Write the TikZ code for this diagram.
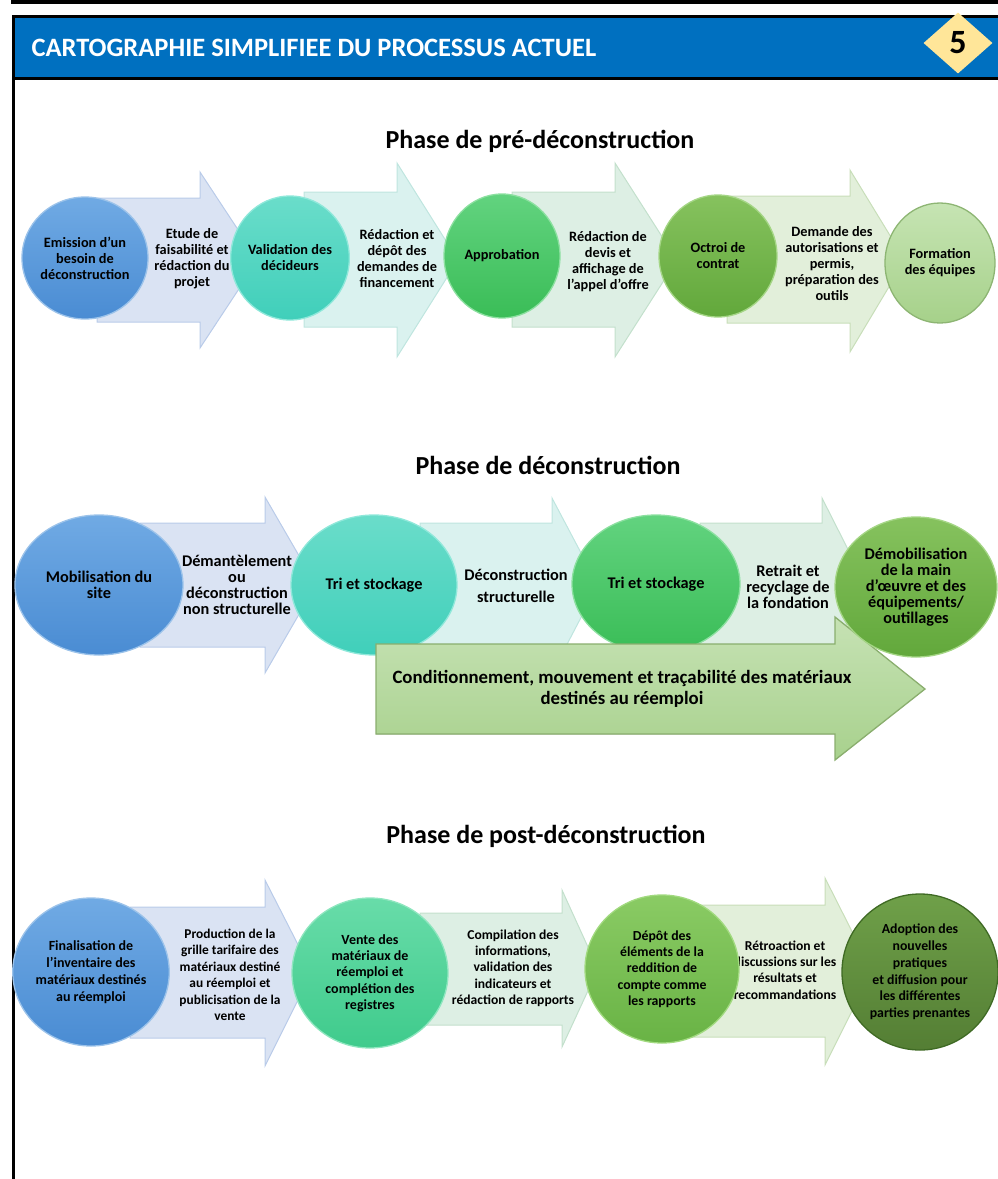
\documentclass[tikz,border=0pt]{standalone}
\usepackage{fontspec}
\setmainfont{Carlito}
\usetikzlibrary{shapes.geometric}
\definecolor{hdrblue}{HTML}{0070C0}
\definecolor{badge}{HTML}{FFE699}
% fleches
\definecolor{arrblue}{HTML}{DAE3F3}  \definecolor{arrblueline}{HTML}{B9CBE9}
\definecolor{arrteal}{HTML}{DAF2EF}  \definecolor{arrtealline}{HTML}{BFE5DF}
\definecolor{arrmint}{HTML}{DDEFE4}  \definecolor{arrmintline}{HTML}{C3E0CC}
\definecolor{arrlime}{HTML}{E2EFDA}  \definecolor{arrlimeline}{HTML}{C8DEB9}
\definecolor{bigtop}{HTML}{C6E2B4}   \definecolor{bigbot}{HTML}{A8D18D}
\definecolor{bigline}{HTML}{8AAE6E}
% cercles
\definecolor{blueT}{HTML}{70AAE4}   \definecolor{blueB}{HTML}{4A8CD3}   \definecolor{blueL}{HTML}{9CC3EA}
\definecolor{tealT}{HTML}{6ADDCA}   \definecolor{tealB}{HTML}{40CFBA}   \definecolor{tealL}{HTML}{8FE8DA}
\definecolor{greenT}{HTML}{62D37F}  \definecolor{greenB}{HTML}{3ABD57}  \definecolor{greenL}{HTML}{8CE0A0}
\definecolor{mintT}{HTML}{68DCA9}   \definecolor{mintB}{HTML}{3FCB8C}   \definecolor{mintL}{HTML}{8FE6BF}
\definecolor{oliveT}{HTML}{86C25E}  \definecolor{oliveB}{HTML}{62A83B}  \definecolor{oliveL}{HTML}{A5D686}
\definecolor{leafT}{HTML}{8ACB64}   \definecolor{leafB}{HTML}{69B345}   \definecolor{leafL}{HTML}{A2DA80}
\definecolor{paleT}{HTML}{C6E4B3}   \definecolor{paleB}{HTML}{A6D18A}   \definecolor{paleL}{HTML}{8DB573}
\definecolor{forestT}{HTML}{6FA049} \definecolor{forestB}{HTML}{547E34} \definecolor{forestL}{HTML}{3F6A24}
\begin{document}
\begin{tikzpicture}[x=1pt,y=-1pt,
    bubble/.style={ellipse, inner sep=0pt, align=center, line width=1.3pt,
        font=\bfseries\fontsize{14.3}{16}\selectfont},
    flowtext/.style={align=center, inner sep=0pt,
        font=\bfseries\fontsize{14.3}{16}\selectfont},
    bigtext/.style={bubble, font=\bfseries\fontsize{16.3}{16}\selectfont},
    midtext/.style={flowtext, font=\bfseries\fontsize{16.3}{16}\selectfont},
    posttext/.style={flowtext, font=\bfseries\fontsize{13.6}{16.3}\selectfont},
    phase/.style={font=\bfseries\fontsize{26}{30}\selectfont},
    arrowblue/.style={fill=arrblue, draw=arrblueline, line width=1pt},
    arrowteal/.style={fill=arrteal, draw=arrtealline, line width=1pt},
    arrowmint/.style={fill=arrmint, draw=arrmintline, line width=1pt},
    arrowlime/.style={fill=arrlime, draw=arrlimeline, line width=1pt},
    blueball/.style={top color=blueT, bottom color=blueB, draw=blueL},
    tealball/.style={top color=tealT, bottom color=tealB, draw=tealL},
    greenball/.style={top color=greenT, bottom color=greenB, draw=greenL},
    mintball/.style={top color=mintT, bottom color=mintB, draw=mintL},
    oliveball/.style={top color=oliveT, bottom color=oliveB, draw=oliveL},
    leafball/.style={top color=leafT, bottom color=leafB, draw=leafL},
    paleball/.style={top color=paleT, bottom color=paleB, draw=paleL},
    forestball/.style={top color=forestT, bottom color=forestB, draw=forestL}]
\useasboundingbox (0,0) rectangle (997,1179);

% cadre et en-tete
\draw[line width=4pt] (13,-5) -- (13,2) -- (1005,2);
\fill[hdrblue] (13,16) rectangle (1005,77);
\draw[line width=3pt] (13,1190) -- (13,16) -- (1005,16);
\draw[line width=3pt] (13,78) -- (1005,78);
\node[anchor=west, text=white, font=\bfseries\fontsize{26.5}{30}\selectfont] (titre) at (28,48)
    {CARTOGRAPHIE SIMPLIFIEE DU PROCESSUS ACTUEL};
\node[diamond, fill=badge, minimum width=69pt, minimum height=61pt, inner sep=0pt,
    font=\bfseries\fontsize{34}{36}\selectfont] (numero) at (958,43) {5};

% phase 1
\node[phase] (phaseA) at (540,141) {Phase de pré-déconstruction};
\filldraw[arrowblue] (97,198) -- (200,198) -- (200,172) -- (258,260) -- (200,348) -- (200,322) -- (97,322) -- cycle;
\filldraw[arrowteal] (304,192) -- (397,192) -- (397,163) -- (458,260) -- (397,357) -- (397,327) -- (304,327) -- cycle;
\filldraw[arrowmint] (512,192) -- (615,192) -- (615,163) -- (677,260) -- (615,357) -- (615,327) -- (512,327) -- cycle;
\filldraw[arrowlime] (727,196) -- (850,196) -- (850,170) -- (905,260) -- (850,352) -- (850,323) -- (727,323) -- cycle;
\node[flowtext] (etude) at (192,259) {Etude de\\faisabilité et\\rédaction du\\projet};
\node[flowtext] (redaction) at (397,259) {Rédaction et\\dépôt des\\demandes de\\financement};
\node[flowtext] (devis) at (608,262) {Rédaction de\\devis et\\affichage de\\l’appel d’offre};
\node[flowtext] (demande) at (832,264) {Demande des\\autorisations et\\permis,\\préparation des\\outils};
\node[bubble, blueball, minimum width=124pt, minimum height=122pt] (emission) at (85,258)
    {Emission d’un\\besoin de\\déconstruction};
\node[bubble, tealball, minimum width=118pt, minimum height=124pt] (validation) at (290,258)
    {Validation des\\décideurs};
\node[bubble, greenball, minimum width=116pt, minimum height=124pt] (approbation) at (502,256)
    {Approbation};
\node[bubble, oliveball, minimum width=118pt, minimum height=122pt] (octroi) at (718,256)
    {Octroi de\\contrat};
\node[bubble, paleball, minimum width=110pt, minimum height=120pt] (formation) at (940,263)
    {Formation\\des équipes};

% phase 2
\node[phase] (phaseB) at (548,465) {Phase de déconstruction};
\filldraw[arrowblue] (140,523) -- (265,523) -- (265,497) -- (316,585) -- (265,673) -- (265,647) -- (140,647) -- cycle;
\filldraw[arrowteal] (420,523) -- (552,523) -- (552,498) -- (598,585) -- (552,673) -- (552,647) -- (420,647) -- cycle;
\filldraw[arrowmint] (700,523) -- (822,523) -- (822,498) -- (866,585) -- (822,673) -- (822,647) -- (700,647) -- cycle;
\node[midtext] (demantelement) at (237,585)
    {Démantèlement\\ou\\déconstruction\\non structurelle};
\node[midtext, font=\bfseries\fontsize{16.3}{22}\selectfont] (structurelle) at (516,586)
    {Déconstruction\\structurelle};
\node[midtext] (retrait) at (788,587)
    {Retrait et\\recyclage de\\la fondation};
\node[bigtext, blueball, minimum width=168pt, minimum height=140pt] (mobilisation) at (99,585)
    {Mobilisation du\\site};
\node[bigtext, tealball, minimum width=166pt, minimum height=140pt] (tri) at (374,585)
    {Tri et stockage};
\node[bigtext, greenball, minimum width=168pt, minimum height=138pt] (stockage) at (656,584)
    {Tri et stockage};
\filldraw[top color=bigtop, bottom color=bigbot, draw=bigline, line width=1.3pt]
    (376,644) -- (835,644) -- (835,617) -- (925,689) -- (835,760) -- (835,734) -- (376,734) -- cycle;
\node[flowtext, font=\bfseries\fontsize{18.8}{21}\selectfont] (conditionnement) at (622,689)
    {Conditionnement, mouvement et traçabilité des matériaux\\destinés au réemploi};
\node[bigtext, oliveball, minimum width=162pt, minimum height=140pt] (demobilisation) at (916,587)
    {Démobilisation\\de la main\\d’œuvre et des\\équipements/\\outillages};

% phase 3
\node[phase] (phaseC) at (546,836) {Phase de post-déconstruction};
\filldraw[arrowblue] (130,907) -- (265,907) -- (265,880) -- (312,972) -- (265,1066) -- (265,1038) -- (130,1038) -- cycle;
\filldraw[arrowmint] (420,913) -- (562,913) -- (562,890) -- (598,969) -- (562,1047) -- (562,1025) -- (420,1025) -- cycle;
\filldraw[arrowlime] (690,905) -- (825,905) -- (825,878) -- (872,971) -- (825,1065) -- (825,1037) -- (690,1037) -- cycle;
\node[posttext, font=\bfseries\fontsize{13.4}{16.5}\selectfont] (production) at (230,975)
    {Production de la\\grille tarifaire des\\matériaux destiné\\au réemploi et\\publicisation de la\\vente};
\node[posttext] (compilation) at (513,968)
    {Compilation des\\informations,\\validation des\\indicateurs et\\rédaction de rapports};
\node[posttext] (retroaction) at (785,970)
    {Rétroaction et\\discussions sur les\\résultats et\\recommandations};
\node[bubble, blueball, font=\bfseries\fontsize{14}{17}\selectfont, minimum width=152pt, minimum height=148pt]
    (finalisation) at (91,972) {Finalisation de\\l’inventaire des\\matériaux destinés\\au réemploi};
\node[bubble, mintball, font=\bfseries\fontsize{14}{16.3}\selectfont, minimum width=156pt, minimum height=150pt]
    (vente) at (370,973) {Vente des\\matériaux de\\réemploi et\\complétion des\\registres};
\node[bubble, leafball, font=\bfseries\fontsize{13.8}{16.3}\selectfont, minimum width=154pt, minimum height=148pt]
    (depot) at (662,969) {Dépôt des\\éléments de la\\reddition de\\compte comme\\les rapports};
\node[bubble, forestball, font=\bfseries\fontsize{13.8}{16.8}\selectfont, minimum width=156pt, minimum height=156pt]
    (adoption) at (920,972) {Adoption des\\nouvelles\\pratiques\\et diffusion pour\\les différentes\\parties prenantes};
\end{tikzpicture}
\end{document}
